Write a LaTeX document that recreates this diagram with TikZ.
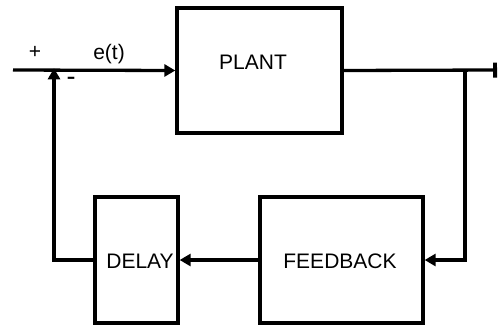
\documentclass[tikz,border=0pt]{standalone}
\usepackage{fontspec}
\setmainfont{Liberation Sans}
\usetikzlibrary{arrows.meta}
\begin{document}
\begin{tikzpicture}[x=1pt,y=-1pt,
  blk/.style={draw=black,line width=3.3pt,rectangle,inner sep=0pt},
  lbl/.style={inner sep=0pt,font=\fontsize{21}{21}\selectfont},
  sml/.style={inner sep=0pt,font=\fontsize{21}{21}\selectfont},
  wire/.style={line width=3.3pt,line join=miter},
  arr/.style={wire,-{Triangle[length=11pt,width=12pt]}},
  endbar/.style={wire,-{Bar[width=15pt,line width=3.8pt]}}]
\useasboundingbox (0,0) rectangle (500,325);
% blocks
\node[blk,minimum width=165pt,minimum height=125pt] (plant) at (259.5,70.5) {};
\node[blk,minimum width=83pt,minimum height=126pt] (delay) at (136.5,260) {};
\node[blk,minimum width=163pt,minimum height=126pt] (fb) at (341.5,260) {};
% texts
\node[lbl] (tplant) at (253,62) {PLANT};
\node[lbl] (tdelay) at (140,261) {DELAY};
\node[lbl] (tfb) at (340,261) {FEEDBACK};
\node[sml] (plus) at (35,52) {+};
\node[sml] (et) at (109,54) {e(t)};
\node[inner sep=0pt,font=\fontsize{27}{27}\selectfont] (minus) at (71,81) {-};
% coordinates
\coordinate (in) at (13,70);
\coordinate (sum) at (54,70);
\coordinate (out) at (497,70);
\coordinate (tap) at (465,70);
% connectors
\draw[arr] (in) -- (plant.west);
\draw[endbar] (plant.east) -- (out);
\draw[arr] (tap) |- (fb.east |- 0,260);
\draw[arr] (fb.west |- 0,260) -- (delay.east |- 0,260);
\draw[arr] (delay.west |- 0,260) -| ([yshift=1.7pt]sum);
\end{tikzpicture}
\end{document}
